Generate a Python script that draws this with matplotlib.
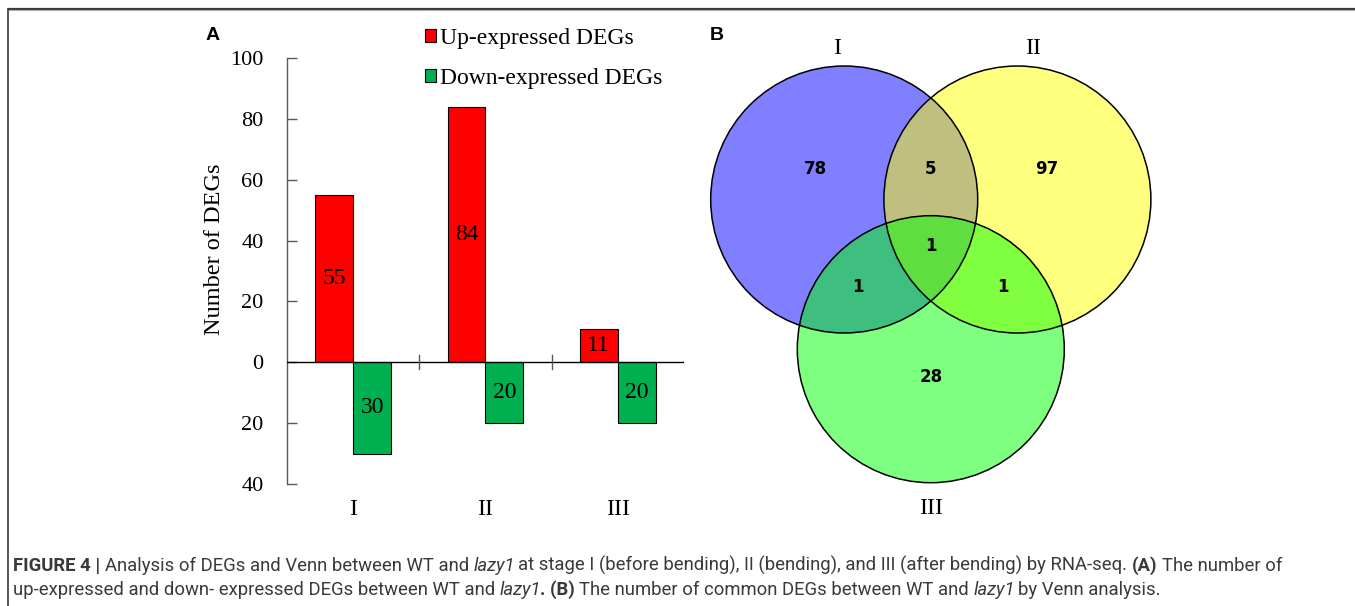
import matplotlib
matplotlib.use('Agg')
import matplotlib.pyplot as plt
from matplotlib.patches import Circle
from matplotlib.transforms import IdentityTransform
import numpy as np

# ---------------- data ----------------
stages = ['I', 'II', 'III']
up_counts = [55, 84, 11]
down_counts = [30, 20, 20]
up_label = 'Up-expressed DEGs'
down_label = 'Down-expressed DEGs'
ytick_values = [-40, -20, 0, 20, 40, 60, 80, 100]
ylabel = 'Number of DEGs'

venn_names = ['I', 'II', 'III']
venn_only_counts = [78, 97, 28]          # I only, II only, III only
venn_pair_counts = [5, 1, 1]             # I&II, I&III, II&III
venn_all_count = 1                       # I&II&III

W, H, DPI = 1355, 606, 100
SERIF = 'Liberation Serif'

fig = plt.figure(figsize=(W / DPI, H / DPI), dpi=DPI)
renderer = fig.canvas.get_renderer()


def px_axes(l, t, w, h, **kw):
    return fig.add_axes([l / W, 1 - (t + h) / H, w / W, h / H], **kw)


# ---------------- overlay (venn, border) ----------------
vax = fig.add_axes([0, 0, 1, 1], zorder=0)
vax.set_xlim(0, W)
vax.set_ylim(H, 0)
vax.axis('off')

# border lines (top / left)
vax.plot([8, W], [8.5, 8.5], color='#3c3c3c', lw=1.6, solid_capstyle='butt')
vax.plot([8, W], [10, 10], color='#b0b0b0', lw=0.8, solid_capstyle='butt')
vax.plot([8, 8], [8, H], color='#3c3c3c', lw=1.2, solid_capstyle='butt')

r = 133.5
centers = [(844.2, 199.5), (1017.4, 199.5), (930.8, 349.2)]
colors = ['#0000FF', '#FFFF00', '#00FF00']
for (cx, cy), c in zip(centers, colors):
    vax.add_patch(Circle((cx, cy), r, facecolor=c, alpha=0.5, edgecolor='none'))
for (cx, cy) in centers:
    vax.add_patch(Circle((cx, cy), r, fill=False, edgecolor='black', lw=1.1))

name_pos = [(837, 48), (1033, 48), (931, 508)]
for (tx, ty), n in zip(name_pos, venn_names):
    vax.text(tx, ty, n, ha='center', va='center', fontsize=17, family=SERIF)

num_kw = dict(ha='center', va='center', fontsize=12, fontweight='bold', family='DejaVu Sans')
only_pos = [(815, 169), (1047, 169), (931, 377)]
for (tx, ty), v in zip(only_pos, venn_only_counts):
    vax.text(tx, ty, str(v), **num_kw)
pair_pos = [(931, 169), (858, 287), (1003, 287)]
for (tx, ty), v in zip(pair_pos, venn_pair_counts):
    vax.text(tx, ty, str(v), **num_kw)
vax.text(931, 246, str(venn_all_count), **num_kw)

# ---------------- bar chart ----------------
ax = px_axes(287, 58, 397, 426, zorder=2)
ax.patch.set_alpha(0)
x = np.arange(len(stages))
bw = 0.287
b_up = ax.bar(x - bw, up_counts, bw, align='edge', color='#FF0000',
              edgecolor='black', lw=0.8, zorder=2)
b_dn = ax.bar(x, [-d for d in down_counts], bw, align='edge', color='#00B050',
              edgecolor='black', lw=0.8, zorder=2)
ax.set_xlim(-0.5, len(stages) - 0.5)
ax.set_ylim(min(ytick_values), max(ytick_values))
for s in ['top', 'right', 'bottom']:
    ax.spines[s].set_visible(False)
ax.spines['left'].set_color('#595959')
ax.spines['left'].set_linewidth(1.0)
ax.axhline(0, color='black', lw=1.0, zorder=3)
for b in x[:-1] + 0.5:
    ax.plot([b, b], [-2.3, 2.3], color='#595959', lw=1.0, zorder=3)

ax.set_yticks(ytick_values)
ax.set_yticklabels([str(abs(v)) for v in ytick_values], family=SERIF)
ax.tick_params(axis='y', direction='in', length=7, width=1, color='#595959',
               pad=17, labelsize=16)
ax.set_xticks(x)
ax.set_xticklabels(stages, family=SERIF)
ax.tick_params(axis='x', length=0, pad=11, labelsize=17)

for xi, v in zip(x, up_counts):
    ax.text(xi - bw / 2, v / 2, str(v), ha='center', va='center',
            fontsize=17, family=SERIF, zorder=4)
for xi, v in zip(x, down_counts):
    ax.text(xi + bw / 2, -v / 2, str(v), ha='center', va='center',
            fontsize=17, family=SERIF, zorder=4)

fig.text(215 / W, 1 - 249 / H, ylabel, rotation=90, ha='center', va='center',
         fontsize=17.5, family=SERIF)

fig.legend(handles=[b_up, b_dn], labels=[up_label, down_label],
           loc='upper left', bbox_to_anchor=(425 / W, 1 - 28 / H),
           frameon=False, prop=dict(family=SERIF, size=17),
           handlelength=0.45, handleheight=0.45, handletextpad=0.2,
           labelspacing=0.8, borderpad=0, borderaxespad=0)

fig.text(213 / W, 1 - 35 / H, 'A', fontweight='bold', fontsize=14,
         family='Liberation Sans', ha='center', va='center')
fig.text(717 / W, 1 - 35 / H, 'B', fontweight='bold', fontsize=14,
         family='Liberation Sans', ha='center', va='center')

# ---------------- caption ----------------
CAP_FONT = 'Roboto'
CAP_COLOR = '#3a3a3a'
N = dict(fontweight='normal', fontstyle='normal')
B = dict(fontweight='bold', fontstyle='normal')
I = dict(fontweight='normal', fontstyle='italic')
line1 = [('FIGURE 4 | ', B), ('Analysis of DEGs and Venn between WT and ', N), ('lazy1', I),
         (' at stage I (before bending), II (bending), and III (after bending) by RNA-seq. ', N),
         ('(A)', B), (' The number of', N)]
line2 = [('up-expressed and down- expressed DEGs between WT and ', N), ('lazy1', I),
         ('. (B)', B), (' The number of common DEGs between WT and ', N), ('lazy1', I),
         (' by Venn analysis.', N)]


def text_w(s, props):
    t = fig.text(0, 0, s, transform=IdentityTransform(), **props)
    w = t.get_window_extent(renderer).width
    t.remove()
    return w


def draw_line(runs, x0, y_img, size, draw=True):
    xx = x0
    for s, style in runs:
        props = dict(fontsize=size, family=CAP_FONT, color=CAP_COLOR, **style)
        sw = text_w('a a', props) - text_w('aa', props)
        lead = len(s) - len(s.lstrip(' '))
        trail = len(s) - len(s.rstrip(' '))
        core = s.strip(' ')
        xx += lead * sw
        if core:
            if draw:
                fig.text(xx, H - y_img, core, transform=IdentityTransform(),
                         ha='left', va='baseline', **props)
            w = text_w(core, props)
            if style is I:
                w -= 0.12 * size  # italic overhang
            xx += w
        xx += trail * sw
    return xx - x0


base = 12.0
w1 = draw_line(line1, 0, 0, base, draw=False)
cap_size = base * (1268 / w1)
draw_line(line1, 13, 571, cap_size)
draw_line(line2, 13, 595, cap_size)

fig.savefig('out.png', dpi=DPI)
